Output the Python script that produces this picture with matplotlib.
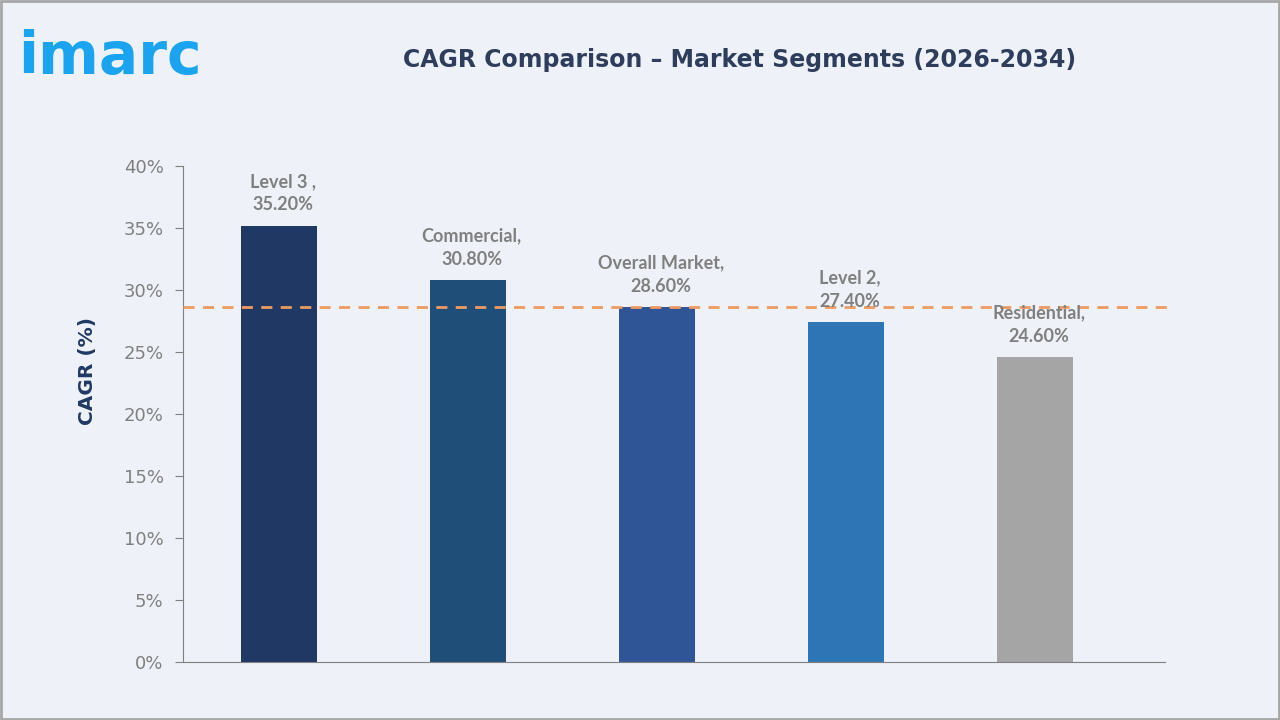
import matplotlib
matplotlib.use("Agg")
import matplotlib.pyplot as plt
from matplotlib.patches import Rectangle

categories = ["Level 3", "Commercial", "Overall Market", "Level 2", "Residential"]
label_names = ["Level 3 ,", "Commercial,", "Overall Market,", "Level 2,", "Residential,"]
values = [35.2, 30.8, 28.6, 27.4, 24.6]
colors = ["#1F3864", "#1F4E79", "#2F5597", "#2E75B6", "#A5A5A5"]
reference_value = 28.6
yticks = [0, 5, 10, 15, 20, 25, 30, 35, 40]

bg = "#EEF2F8"
fig = plt.figure(figsize=(12.8, 7.2), dpi=100, facecolor=bg)
fig.patches.append(Rectangle((0.001, 0.001), 0.998, 0.997, transform=fig.transFigure,
                             fill=False, edgecolor="#A6A6A6", linewidth=2))

ax = fig.add_axes([183/1280, 1 - 662/720, (1165-183)/1280, (662-166)/720])
ax.set_facecolor(bg)
x = range(len(categories))
ax.bar(x, values, width=0.40, color=colors, zorder=2)
ax.set_xlim(-0.508, 4.688)
ax.set_ylim(0, 40)
ax.plot([-0.508, 4.73], [reference_value, reference_value], color="#EE9A60",
        linestyle=(0, (4, 3)), linewidth=2, zorder=3, clip_on=False)

for xi, v, nm in zip(x, values, label_names):
    ax.text(xi + 0.02, v + 1.0, f"{nm}\n{v:.2f}%", ha="center", va="bottom",
            fontsize=13, color="#7F7F7F", fontweight="bold", family="Lato",
            linespacing=1.45)

ax.set_yticks(yticks)
ax.set_yticklabels([f"{t}%" for t in yticks])
ax.set_xticks([])
for s in ["top", "right"]:
    ax.spines[s].set_visible(False)
ax.spines["left"].set_color("#808080")
ax.spines["bottom"].set_color("#808080")
ax.tick_params(axis="y", length=6, color="#808080", labelcolor="#7F7F7F", labelsize=13, pad=8)
ax.set_ylabel("CAGR (%)", fontsize=14.5, fontweight="bold", color="#1F3864")
ax.yaxis.set_label_coords(-0.088, 0.587)

fig.text(740/1280, 1 - 60/720, "CAGR Comparison – Market Segments (2026-2034)",
         ha="center", va="center", fontsize=17, fontweight="bold", color="#2E3D5C")
fig.text(18/1280, 1 - 74/720, "imarc", ha="left", va="baseline", fontsize=42,
         fontweight="bold", color="#1AA3EE", family="DejaVu Sans")

fig.savefig("out.png", dpi=100, facecolor=bg)
